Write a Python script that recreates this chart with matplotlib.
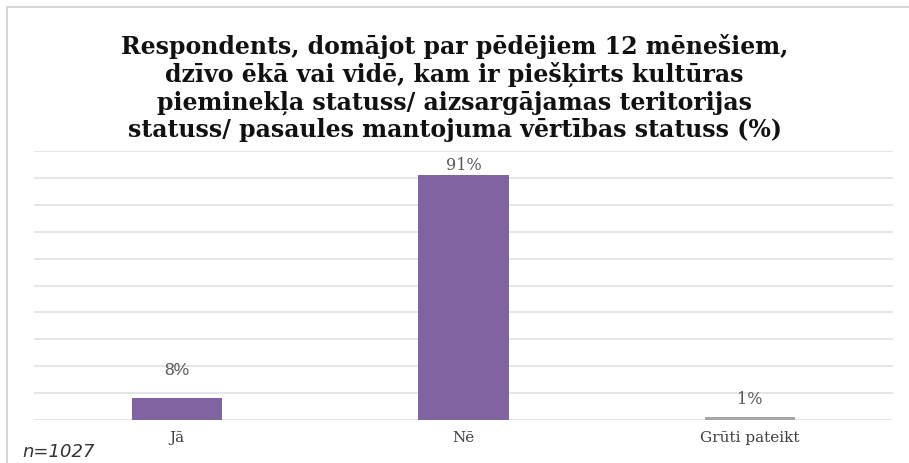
import matplotlib
matplotlib.use('Agg')
import matplotlib.pyplot as plt
from matplotlib.patches import Rectangle

# Data
categories = ['Jā', 'Nē', 'Grūti pateikt']
values = [8, 91, 1]
labels = ['8%', '91%', '1%']
title = ('Respondents, domājot par pēdējiem 12 mēnešiem,\n'
         'dzīvo ēkā vai vidē, kam ir piešķirts kultūras\n'
         'pieminekļa statuss/ aizsargājamas teritorijas\n'
         'statuss/ pasaules mantojuma vērtības statuss (%)')
note = 'n=1027'

# Styles
bar_colors = ['#8064A2', '#8064A2', '#A5A5A5']
label_fonts = ['Liberation Sans', 'DejaVu Serif', 'DejaVu Serif']
label_sizes = [12.5, 11.5, 11.5]
label_offsets = [28, 10, 18]  # px from bar top to label centre

fig = plt.figure(figsize=(9.09, 4.63), dpi=100)

# light frame around the chart
fig.patches.append(Rectangle((7 / 909, -0.1), 1.2, (463 - 7) / 463 + 0.1,
                             transform=fig.transFigure, fill=False,
                             edgecolor='#d0d0d0', lw=1.2))

ax = fig.add_axes([34 / 909, 43 / 463, (893 - 34) / 909, (420 - 151) / 463])
x = range(len(categories))
bars = ax.bar(x, values, width=0.315, color=bar_colors, zorder=3)

ax.set_xlim(-0.5, 2.5)
ax.set_ylim(0, 100)
ax.set_yticks(range(0, 101, 10))
ax.yaxis.grid(True, color='#e2e2e2', lw=1.2, zorder=0)
ax.tick_params(axis='y', left=False, labelleft=False)
ax.tick_params(axis='x', length=0, pad=8)
for s in ax.spines.values():
    s.set_visible(False)

ax.set_xticks(list(x))
ax.set_xticklabels(categories, family='DejaVu Serif', fontsize=11,
                   color='#404040')

for b, lab, fnt, sz, off in zip(bars, labels, label_fonts, label_sizes, label_offsets):
    ax.annotate(lab, (b.get_x() + b.get_width() / 2, b.get_height()),
                xytext=(0, off * 0.72), textcoords='offset points',
                ha='center', va='center', family=fnt, fontsize=sz,
                color='#595959')

fig.text(0.5, 1 - 88 / 463, title, ha='center', va='center', family='DejaVu Serif',
         fontweight='bold', fontsize=17, linespacing=1.17, color='#111111')

fig.text(22 / 909, 1 - 452 / 463, note, ha='left', va='center',
         family='DejaVu Sans', style='italic', fontsize=13, color='#333333')

fig.savefig('out.png', dpi=100)
